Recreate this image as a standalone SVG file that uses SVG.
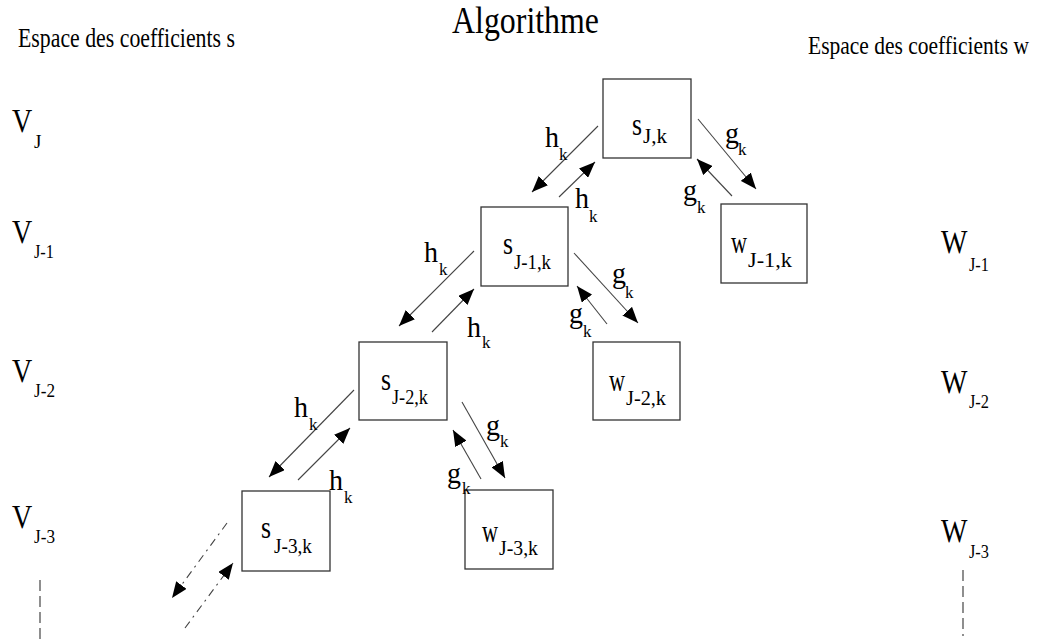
<svg xmlns="http://www.w3.org/2000/svg" width="1037" height="644" viewBox="0 0 1037 644" font-family="'Liberation Serif', 'Times New Roman', serif">
<defs>
<marker id="ah" markerUnits="userSpaceOnUse" markerWidth="17" markerHeight="13" refX="16" refY="6.5" orient="auto">
<path d="M0,0 L16,6.5 L0,13 z" fill="#000"/>
</marker>
<style>
text{font-family:"Liberation Serif","Times New Roman",serif;fill:#000}
.box{fill:#fff;stroke:#333;stroke-width:1.3}
.big{font-size:28px}
.sub{font-size:19px}
.nm{font-size:31px}
.ns{font-size:20px}
.lb{font-size:30px}
.lk{font-size:17px}
.ar{stroke:#444;stroke-width:1.1;fill:none;marker-end:url(#ah)}
.da{stroke-dasharray:8 5 2 5}
.vd{stroke:#333;stroke-width:1.1;stroke-dasharray:11 5}
</style>
</defs>
<rect width="1037" height="644" fill="#fff"/>

<g id="headers">
<text x="452" y="33" font-size="38" textLength="147" lengthAdjust="spacingAndGlyphs">Algorithme</text>
<text x="18" y="47" font-size="27" textLength="217" lengthAdjust="spacingAndGlyphs">Espace des coefficients s</text>
<text transform="translate(808,54) scale(1,1.2)" font-size="21.5">Espace des coefficients w</text>
</g>

<g id="v-labels">
<text class="big" transform="translate(12,132) scale(1,1.2)">V</text><text class="sub" x="34" y="148">J</text>
<text class="big" transform="translate(12,243) scale(1,1.2)">V</text><text class="sub" x="34" y="258" textLength="20" lengthAdjust="spacingAndGlyphs">J-1</text>
<text class="big" transform="translate(12,382) scale(1,1.2)">V</text><text class="sub" x="34" y="397" textLength="21" lengthAdjust="spacingAndGlyphs">J-2</text>
<text class="big" transform="translate(12,528) scale(1,1.2)">V</text><text class="sub" x="34" y="543" textLength="21" lengthAdjust="spacingAndGlyphs">J-3</text>
<line class="vd" x1="40" y1="580" x2="40" y2="644"/>
</g>

<g id="w-labels">
<text class="big" transform="translate(941,253) scale(1,1.2)">W</text><text class="sub" x="969" y="271" textLength="20" lengthAdjust="spacingAndGlyphs">J-1</text>
<text class="big" transform="translate(941,393) scale(1,1.2)">W</text><text class="sub" x="969" y="408" textLength="20" lengthAdjust="spacingAndGlyphs">J-2</text>
<text class="big" transform="translate(941,542) scale(1,1.2)">W</text><text class="sub" x="969" y="558" textLength="20" lengthAdjust="spacingAndGlyphs">J-3</text>
<line class="vd" x1="963" y1="570" x2="963" y2="636"/>
</g>

<g id="node-sJ">
<rect class="box" x="603" y="79" width="88" height="79"/>
<text class="nm" x="632" y="135" textLength="10" lengthAdjust="spacingAndGlyphs">s</text><text class="ns" x="643" y="143" textLength="24" lengthAdjust="spacingAndGlyphs">J,k</text>
</g>
<g id="node-sJ1">
<rect class="box" x="481" y="207" width="87" height="79"/>
<text class="nm" x="503" y="254" textLength="10" lengthAdjust="spacingAndGlyphs">s</text><text class="ns" x="514" y="269" textLength="37" lengthAdjust="spacingAndGlyphs">J-1,k</text>
</g>
<g id="node-wJ1">
<rect class="box" x="721" y="204" width="86" height="79"/>
<text class="nm" x="731" y="253" textLength="16" lengthAdjust="spacingAndGlyphs">w</text><text class="ns" x="748" y="267" textLength="44" lengthAdjust="spacingAndGlyphs">J-1,k</text>
</g>
<g id="node-sJ2">
<rect class="box" x="359" y="342" width="88" height="78"/>
<text class="nm" x="381" y="390" textLength="10" lengthAdjust="spacingAndGlyphs">s</text><text class="ns" x="392" y="404" textLength="36" lengthAdjust="spacingAndGlyphs">J-2,k</text>
</g>
<g id="node-wJ2">
<rect class="box" x="593" y="342" width="87" height="78"/>
<text class="nm" x="609" y="391" textLength="16" lengthAdjust="spacingAndGlyphs">w</text><text class="ns" x="626" y="405" textLength="40" lengthAdjust="spacingAndGlyphs">J-2,k</text>
</g>
<g id="node-sJ3">
<rect class="box" x="242" y="491" width="88" height="80"/>
<text class="nm" x="261" y="538" textLength="10" lengthAdjust="spacingAndGlyphs">s</text><text class="ns" x="274" y="553" textLength="38" lengthAdjust="spacingAndGlyphs">J-3,k</text>
</g>
<g id="node-wJ3">
<rect class="box" x="465" y="490" width="88" height="79"/>
<text class="nm" x="482" y="542" textLength="16" lengthAdjust="spacingAndGlyphs">w</text><text class="ns" x="499" y="555" textLength="39" lengthAdjust="spacingAndGlyphs">J-3,k</text>
</g>

<g id="connectors">
<line class="ar" x1="598" y1="126" x2="532" y2="192"/>
<line class="ar" x1="559" y1="197" x2="595" y2="162"/>
<line class="ar" x1="698" y1="119" x2="756" y2="189"/>
<line class="ar" x1="732" y1="196" x2="697" y2="159"/>
<line class="ar" x1="474" y1="251" x2="399" y2="326"/>
<line class="ar" x1="432" y1="332" x2="474" y2="289"/>
<line class="ar" x1="574" y1="253" x2="638" y2="323"/>
<line class="ar" x1="607" y1="324" x2="577" y2="286"/>
<line class="ar" x1="354" y1="390" x2="269" y2="477"/>
<line class="ar" x1="298" y1="480" x2="350" y2="428"/>
<line class="ar" x1="462" y1="402" x2="505" y2="478"/>
<line class="ar" x1="481" y1="479" x2="453" y2="430"/>
<line class="ar da" x1="227" y1="523" x2="172" y2="598"/>
<line class="ar da" x1="185" y1="628" x2="233" y2="563"/>
</g>

<g id="connector-labels">
<text class="lb" x="545" y="147" textLength="14" lengthAdjust="spacingAndGlyphs">h</text><text class="lk" x="559" y="160">k</text>
<text class="lb" x="575" y="208" textLength="14" lengthAdjust="spacingAndGlyphs">h</text><text class="lk" x="589" y="222">k</text>
<text class="lb" x="725" y="143" textLength="14" lengthAdjust="spacingAndGlyphs">g</text><text class="lk" x="738" y="155">k</text>
<text class="lb" x="683" y="200" textLength="14" lengthAdjust="spacingAndGlyphs">g</text><text class="lk" x="697" y="213">k</text>
<text class="lb" x="424" y="262" textLength="14" lengthAdjust="spacingAndGlyphs">h</text><text class="lk" x="439" y="275">k</text>
<text class="lb" x="467" y="337" textLength="14" lengthAdjust="spacingAndGlyphs">h</text><text class="lk" x="482" y="348">k</text>
<text class="lb" x="612" y="283" textLength="14" lengthAdjust="spacingAndGlyphs">g</text><text class="lk" x="625" y="298">k</text>
<text class="lb" x="569" y="323" textLength="14" lengthAdjust="spacingAndGlyphs">g</text><text class="lk" x="583" y="337">k</text>
<text class="lb" x="294" y="417" textLength="14" lengthAdjust="spacingAndGlyphs">h</text><text class="lk" x="309" y="430">k</text>
<text class="lb" x="329" y="490" textLength="14" lengthAdjust="spacingAndGlyphs">h</text><text class="lk" x="344" y="503">k</text>
<text class="lb" x="486" y="435" textLength="14" lengthAdjust="spacingAndGlyphs">g</text><text class="lk" x="500" y="447">k</text>
<text class="lb" x="447" y="483" textLength="14" lengthAdjust="spacingAndGlyphs">g</text><text class="lk" x="462" y="494">k</text>
</g>
</svg>
